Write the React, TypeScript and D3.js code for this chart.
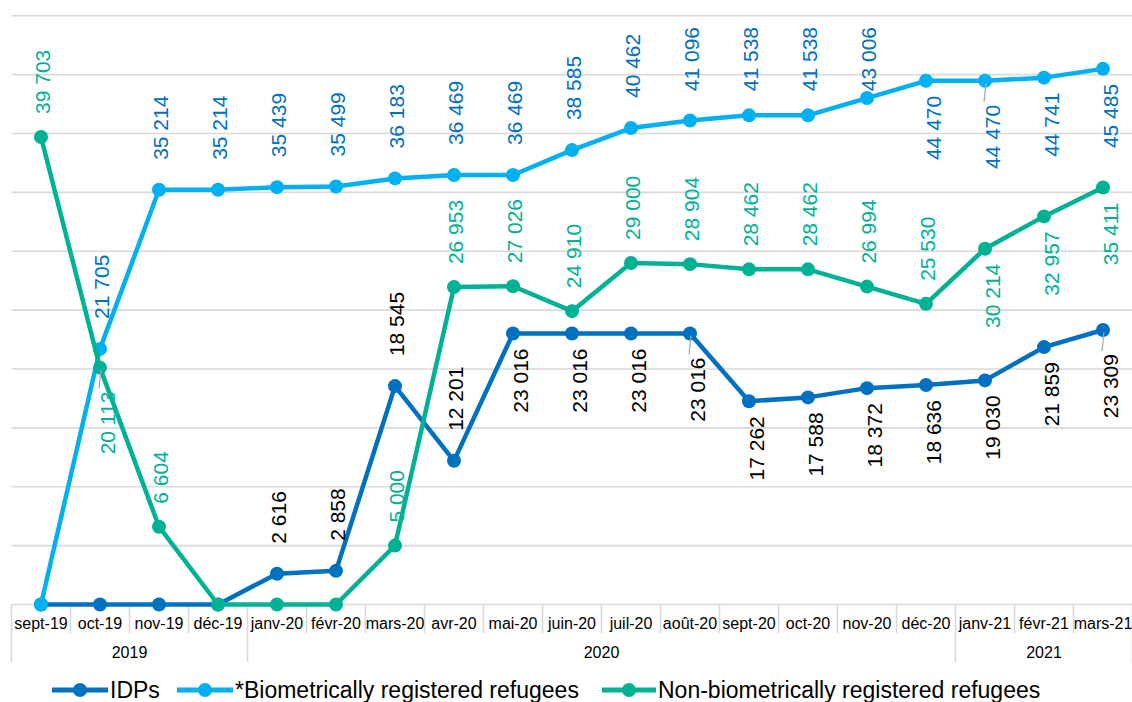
import * as d3 from 'd3';

const months = [
  'sept-19', 'oct-19', 'nov-19', 'déc-19', 'janv-20', 'févr-20', 'mars-20', 'avr-20', 'mai-20', 'juin-20',
  'juil-20', 'août-20', 'sept-20', 'oct-20', 'nov-20', 'déc-20', 'janv-21', 'févr-21', 'mars-21',
];

const idps = [0, 0, 0, 0, 2616, 2858, 18545, 12201, 23016, 23016, 23016, 23016, 17262, 17588, 18372, 18636, 19030, 21859, 23309];
const bioRefugees = [0, 21705, 35214, 35214, 35439, 35499, 36183, 36469, 36469, 38585, 40462, 41096, 41538, 41538, 43006, 44470, 44470, 44741, 45485];
const nonBioRefugees = [39703, 20113, 6604, 0, 0, 0, 5000, 26953, 27026, 24910, 29000, 28904, 28462, 28462, 26994, 25530, 30214, 32957, 35411];

// label side per point: a = above, b = below, '' = no label
const idpsSide = ['', '', '', '', 'a', 'a', 'a', 'a', 'b', 'b', 'b', 'b', 'b', 'b', 'b', 'b', 'b', 'b', 'b'];
const bioSide = ['', 'a', 'a', 'a', 'a', 'a', 'a', 'a', 'a', 'a', 'a', 'a', 'a', 'a', 'a', 'b', 'b', 'b', 'b'];
const nonBioSide = ['a', 'b', 'a', '', '', '', 'a', 'a', 'a', 'a', 'a', 'a', 'a', 'a', 'a', 'a', 'b', 'b', 'b'];

// labels that Excel drew with a leader line
const idpsLeader = [11, 18];
const bioLeader = [16];
const nonBioLeader = [1];

const W = 1132;
const H = 702;
const FONT = '"Liberation Sans", Arial, sans-serif';
const LABEL_SIZE = 21;
const LABEL_TOP = 27; // labels are kept below this line

const series = [
  { name: 'IDPs', values: idps, side: idpsSide, leader: idpsLeader, color: '#0070C0', labelColor: '#000000', gapAbove: 30 },
  { name: '*Biometrically registered refugees', values: bioRefugees, side: bioSide, leader: bioLeader, color: '#00B0F0', labelColor: '#0070C0', gapAbove: 30 },
  { name: 'Non-biometrically registered refugees', values: nonBioRefugees, side: nonBioSide, leader: nonBioLeader, color: '#00B294', labelColor: '#00B294', gapAbove: 23 },
];

const fmt = d3.formatLocale({ decimal: ',', thousands: ' ', grouping: [3], currency: ['', ''] }).format(',d');

// rough text length for digit labels in Arial-like fonts
const labelLen = (s: string) =>
  LABEL_SIZE * s.split('').reduce((a, c) => a + (c === ' ' ? 0.278 : 0.556), 0);

export default function App() {
  const x = d3.scaleBand<string>().domain(months).range([11.5, 1132.5]).padding(0);
  const y = d3.scaleLinear().domain([0, 50000]).range([604.5, 15.7]);
  const bw = x.bandwidth();
  const cx = (i: number) => (x(months[i]) ?? 0) + bw / 2;
  const line = d3.line<number>().x((_, i) => cx(i)).y((d) => y(d));

  const yearOf = (m: string) => '20' + m.slice(-2);
  const years = Array.from(new Set(months.map(yearOf)));
  const groups = years.map((yr) => {
    const idx = months.map((m, i) => (yearOf(m) === yr ? i : -1)).filter((i) => i >= 0);
    return { yr, first: idx[0], last: idx[idx.length - 1] };
  });

  const baseY = y(0);
  const legend = [
    { x: 52, w: 56 },
    { x: 177, w: 56 },
    { x: 602, w: 54 },
  ];

  return (
    <div style={{ position: 'absolute', left: 0, top: 0 }}>
      <svg width={W} height={H} style={{ display: 'block', background: '#fff' }}>
        {/* gridlines */}
        {y.ticks(10).map((t) => (
          <line key={t} x1={11.5} x2={1132.5} y1={y(t)} y2={y(t)} stroke="#d9d9d9" strokeWidth={1.6} />
        ))}

        {/* category axis with separators */}
        {d3.range(months.length + 1).map((i) => {
          const xx = 11.5 + i * bw;
          const isGroup = i === 0 || i === months.length || groups.some((g) => g.first === i);
          return <line key={i} x1={xx} x2={xx} y1={baseY} y2={isGroup ? 662 : 633} stroke="#d9d9d9" strokeWidth={1.6} />;
        })}
        {months.map((m, i) => (
          <text key={m} x={cx(i)} y={623} dy="0.35em" textAnchor="middle" fontFamily={FONT} fontSize={16} fill="#000">
            {m}
          </text>
        ))}
        {groups.map((g) => (
          <text
            key={g.yr}
            x={(11.5 + g.first * bw + 11.5 + (g.last + 1) * bw) / 2}
            y={652}
            dy="0.35em"
            textAnchor="middle"
            fontFamily={FONT}
            fontSize={16}
            fill="#000"
          >
            {g.yr}
          </text>
        ))}

        {/* series */}
        {series.map((s) => (
          <g key={s.name}>
            <path d={line(s.values) ?? ''} fill="none" stroke={s.color} strokeWidth={4.5} strokeLinejoin="round" />
            {s.values.map((v, i) => (
              <circle key={i} cx={cx(i)} cy={y(v)} r={7} fill={s.color} />
            ))}
          </g>
        ))}

        {/* data labels */}
        {series.map((s) => (
          <g key={s.name + '-labels'}>
            {s.values.map((v, i) => {
              const side = s.side[i];
              if (!side) return null;
              const px = cx(i);
              const py = y(v);
              const txt = fmt(v);
              const hasLeader = s.leader.includes(i);
              if (side === 'a') {
                const gap = s.gapAbove + (hasLeader ? 9 : 0);
                const start = Math.max(py - gap, LABEL_TOP + labelLen(txt));
                return (
                  <g key={i}>
                    {hasLeader && <line x1={px} x2={px - 1} y1={py - 3} y2={start + 3} stroke="#a6a6a6" strokeWidth={1.2} />}
                    <text
                      transform={`translate(${px + 1.5},${start}) rotate(-90)`}
                      dy="0.36em"
                      textAnchor="start"
                      fontFamily={FONT}
                      fontSize={LABEL_SIZE}
                      fill={s.labelColor}
                    >
                      {txt}
                    </text>
                  </g>
                );
              }
              const gap = hasLeader ? 24 : 15;
              return (
                <g key={i}>
                  {hasLeader && <line x1={px + 1} x2={px - 1} y1={py + 2} y2={py + gap - 3} stroke="#a6a6a6" strokeWidth={1.2} />}
                  <text
                    transform={`translate(${px + 7},${py + gap}) rotate(-90)`}
                    dy="0.36em"
                    textAnchor="end"
                    fontFamily={FONT}
                    fontSize={LABEL_SIZE}
                    fill={s.labelColor}
                  >
                    {txt}
                  </text>
                </g>
              );
            })}
          </g>
        ))}

        {/* legend */}
        {series.map((s, k) => {
          const L = legend[k];
          return (
            <g key={s.name + '-legend'}>
              <line x1={L.x} x2={L.x + L.w} y1={690} y2={690} stroke={s.color} strokeWidth={5} />
              <circle cx={L.x + L.w / 2} cy={690} r={7} fill={s.color} />
              <text x={L.x + L.w + 2} y={690} dy="0.36em" fontFamily={FONT} fontSize={23} fill="#000">
                {s.name}
              </text>
            </g>
          );
        })}
      </svg>
    </div>
  );
}
